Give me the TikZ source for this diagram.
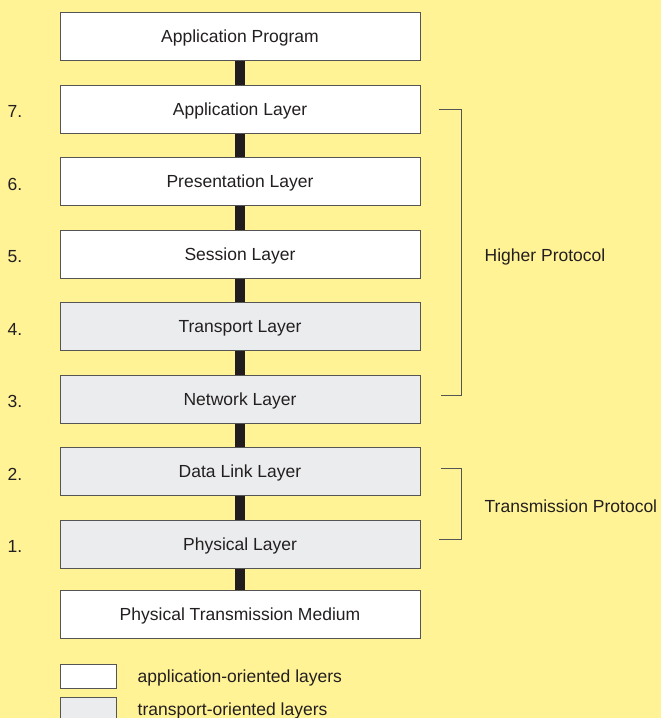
\documentclass[tikz,border=0pt]{standalone}
\usepackage{fontspec}
\setmainfont{Liberation Sans}
\usetikzlibrary{positioning,calc}
\definecolor{bgyellow}{RGB}{255,243,150}
\definecolor{boxgray}{RGB}{235,236,238}
\definecolor{rimgray}{RGB}{85,85,85}
\definecolor{inkblack}{RGB}{35,31,32}

\begin{document}
\begin{tikzpicture}[x=1pt, y=-1pt,
	layer/.style={draw=rimgray, line width=1pt, minimum width=360pt, minimum height=48pt, inner sep=0pt, text depth=0pt, text=inkblack, font=\fontsize{17.5}{20}\selectfont},
	applayer/.style={layer, fill=white},
	translayer/.style={layer, fill=boxgray},
	keybox/.style={draw=rimgray, line width=1pt, minimum width=56pt, minimum height=24pt, inner sep=0pt},
	link/.style={line width=10pt, color=inkblack!95!black},
	brace/.style={draw=rimgray, line width=1pt},
	label/.style={anchor=west, inner sep=0pt, text depth=0pt, text=inkblack, font=\fontsize{17.5}{20}\selectfont},
	num/.style={anchor=east, inner sep=0pt, text=inkblack, font=\fontsize{17.5}{20}\selectfont}]
			%%%%% START %%%%%
			
			\fill[bgyellow] (0, 0) rectangle (661, 718);
			\clip (0, 0) rectangle (661, 718);
			
			\node[applayer] (prog) at (240, 36.5) {Application Program};
			\node[applayer, below=23.5pt of prog] (l7) {Application Layer};
			\node[applayer, below=23.5pt of l7] (l6) {Presentation Layer};
			\node[applayer, below=23.5pt of l6] (l5) {Session Layer};
			\node[translayer, below=23.5pt of l5] (l4) {Transport Layer};
			\node[translayer, below=23.5pt of l4] (l3) {Network Layer};
			\node[translayer, below=23.5pt of l3] (l2) {Data Link Layer};
			\node[translayer, below=23.5pt of l2] (l1) {Physical Layer};
			\node[applayer, below=21pt of l1] (medium) {Physical Transmission Medium};
			
			\draw[link] (prog) -- (l7);
			\draw[link] (l7) -- (l6);
			\draw[link] (l6) -- (l5);
			\draw[link] (l5) -- (l4);
			\draw[link] (l4) -- (l3);
			\draw[link] (l3) -- (l2);
			\draw[link] (l2) -- (l1);
			\draw[link] (l1) -- (medium);
			
			\node[num, left=37pt of l7, yshift=-2.5pt] (n7) {7.};
			\node[num, left=37pt of l6, yshift=-2.5pt] (n6) {6.};
			\node[num, left=37pt of l5, yshift=-2.5pt] (n5) {5.};
			\node[num, left=37pt of l4, yshift=-2.5pt] (n4) {4.};
			\node[num, left=37pt of l3, yshift=-2.5pt] (n3) {3.};
			\node[num, left=37pt of l2, yshift=-2.5pt] (n2) {2.};
			\node[num, left=37pt of l1, yshift=-2.5pt] (n1) {1.};
			
			\draw[brace] ([xshift=18pt]l7.east) -| ([xshift=41pt, yshift=4pt]l3.east) -- ([xshift=20pt, yshift=4pt]l3.east);
			\draw[brace] ([xshift=20pt, yshift=3.5pt]l2.east) -| ([xshift=41pt, yshift=5pt]l1.east) -- ([xshift=18pt, yshift=5pt]l1.east);
			
			\node[label] (higher) at ([xshift=64pt, yshift=-1pt]l5.east) {Higher Protocol};
			\node[label] (transm) at ([xshift=64pt, yshift=2pt]$(l2.east)!0.5!(l1.east)$) {Transmission Protocol};
			
			\node[keybox, fill=white] (keyapp) at (88, 676) {};
			\node[keybox, fill=boxgray] (keytrans) at (88, 709) {};
			\node[label, right=21pt of keyapp] (keyapptxt) {application-oriented layers};
			\node[label, right=21pt of keytrans] (keytranstxt) {transport-oriented layers};
			
			%%%%% END %%%%%
\end{tikzpicture}
\end{document}
